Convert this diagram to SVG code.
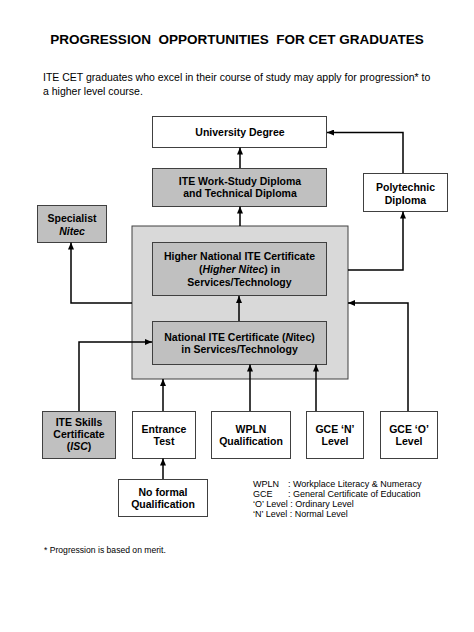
<svg xmlns="http://www.w3.org/2000/svg" width="474" height="632" viewBox="0 0 474 632">
<defs>
<marker id="arr" markerWidth="7" markerHeight="6" refX="7" refY="3" orient="auto" markerUnits="userSpaceOnUse">
<path d="M0,0 L7,3 L0,6 Z" fill="#000"/>
</marker>
<style>
.box{stroke:#404040;stroke-width:1;}
.w{fill:#fff;}
.g{fill:#c0c0c0;}
.big{fill:#d9d9d9;}
.t{font-family:"Liberation Sans",Arial,sans-serif;font-weight:bold;font-size:10.5px;text-anchor:middle;fill:#000;}
.c{fill:none;stroke:#000;stroke-width:1.5;marker-end:url(#arr);}
.s{font-family:"Liberation Sans",Arial,sans-serif;font-size:10.5px;fill:#000;}
.l{font-family:"Liberation Sans",Arial,sans-serif;font-size:9px;fill:#000;}
</style>
</defs>
<rect width="474" height="632" fill="#fff"/>
<text x="237" y="44" style="font-family:'Liberation Sans',Arial,sans-serif;font-weight:bold;font-size:13.5px;text-anchor:middle" xml:space="preserve">PROGRESSION  OPPORTUNITIES  FOR CET GRADUATES</text>
<text class="s" x="43" y="81">ITE CET graduates who excel in their course of study may apply for progression* to</text>
<text class="s" x="43" y="95">a higher level course.</text>

<g id="big-box"><rect class="box big" x="132" y="226" width="216" height="153"/></g>

<g id="university"><rect class="box w" x="152.5" y="116.5" width="174" height="31"/>
<text class="t" x="240" y="136">University Degree</text></g>

<g id="workstudy"><rect class="box g" x="152.5" y="168.5" width="174" height="38"/>
<text class="t" x="240" y="185">ITE Work-Study Diploma</text>
<text class="t" x="240" y="197">and Technical Diploma</text></g>

<g id="specialist"><rect class="box g" x="37.5" y="205.5" width="69" height="37"/>
<text class="t" x="72" y="222">Specialist</text>
<text class="t" x="72" y="235" font-style="italic">Nitec</text></g>

<g id="polytechnic"><rect class="box w" x="363.5" y="173.5" width="84" height="38"/>
<text class="t" x="405.5" y="191">Polytechnic</text>
<text class="t" x="405.5" y="204">Diploma</text></g>

<g id="higher-nitec"><rect class="box g" x="152.5" y="242.5" width="174" height="53"/>
<text class="t" x="239.5" y="260">Higher National ITE Certificate</text>
<text class="t" x="239.5" y="273">(<tspan font-style="italic">Higher Nitec</tspan>) in</text>
<text class="t" x="239.5" y="286">Services/Technology</text></g>

<g id="nitec"><rect class="box g" x="152.5" y="321.5" width="174" height="43"/>
<text class="t" x="239.5" y="341">National ITE Certificate (<tspan font-style="italic">N</tspan>itec)</text>
<text class="t" x="239.5" y="353">in Services/Technology</text></g>

<g id="isc"><rect class="box g" x="42.5" y="411.5" width="73" height="47"/>
<text class="t" x="79" y="426">ITE Skills</text>
<text class="t" x="79" y="438">Certificate</text>
<text class="t" x="79" y="450">(<tspan font-style="italic">ISC</tspan>)</text></g>

<g id="entrance"><rect class="box w" x="132.5" y="411.5" width="63" height="47"/>
<text class="t" x="164" y="433">Entrance</text>
<text class="t" x="164" y="445">Test</text></g>

<g id="noformal"><rect class="box w" x="118.5" y="479.5" width="89" height="37"/>
<text class="t" x="163" y="496">No formal</text>
<text class="t" x="163" y="508">Qualification</text></g>

<g id="wpln"><rect class="box w" x="211.5" y="411.5" width="79" height="47"/>
<text class="t" x="251" y="433">WPLN</text>
<text class="t" x="251" y="445">Qualification</text></g>

<g id="gce-n"><rect class="box w" x="306.5" y="411.5" width="57" height="47"/>
<text class="t" x="335" y="433">GCE ‘N’</text>
<text class="t" x="335" y="445">Level</text></g>

<g id="gce-o"><rect class="box w" x="380.5" y="411.5" width="57" height="47"/>
<text class="t" x="409" y="433">GCE ‘O’</text>
<text class="t" x="409" y="445">Level</text></g>

<g id="connectors">
<path class="c" d="M240,168 V147.5"/>
<path class="c" d="M240,226 V206.5"/>
<path class="c" d="M132,303 H71 V242.5"/>
<path class="c" d="M348,270 H403 V211.5"/>
<path class="c" d="M403,173 V132.5 H327"/>
<path class="c" d="M239,321 V296"/>
<path class="c" d="M79,411 V342 H152"/>
<path class="c" d="M163,411 V379"/>
<path class="c" d="M163,479 V458.5"/>
<path class="c" d="M250,411 V364.5"/>
<path class="c" d="M316,411 V364.5"/>
<path class="c" d="M408,411 V303 H348"/>
</g>

<g id="legend">
<text class="l" x="253" y="487">WPLN</text><text class="l" x="288" y="487">: Workplace Literacy &amp; Numeracy</text>
<text class="l" x="253" y="497">GCE</text><text class="l" x="288" y="497">: General Certificate of Education</text>
<text class="l" x="253" y="507">‘O’ Level : Ordinary Level</text>
<text class="l" x="253" y="517">‘N’ Level : Normal Level</text>
</g>
<text class="l" x="44" y="553" style="font-size:8.6px">* Progression is based on merit.</text>
</svg>
